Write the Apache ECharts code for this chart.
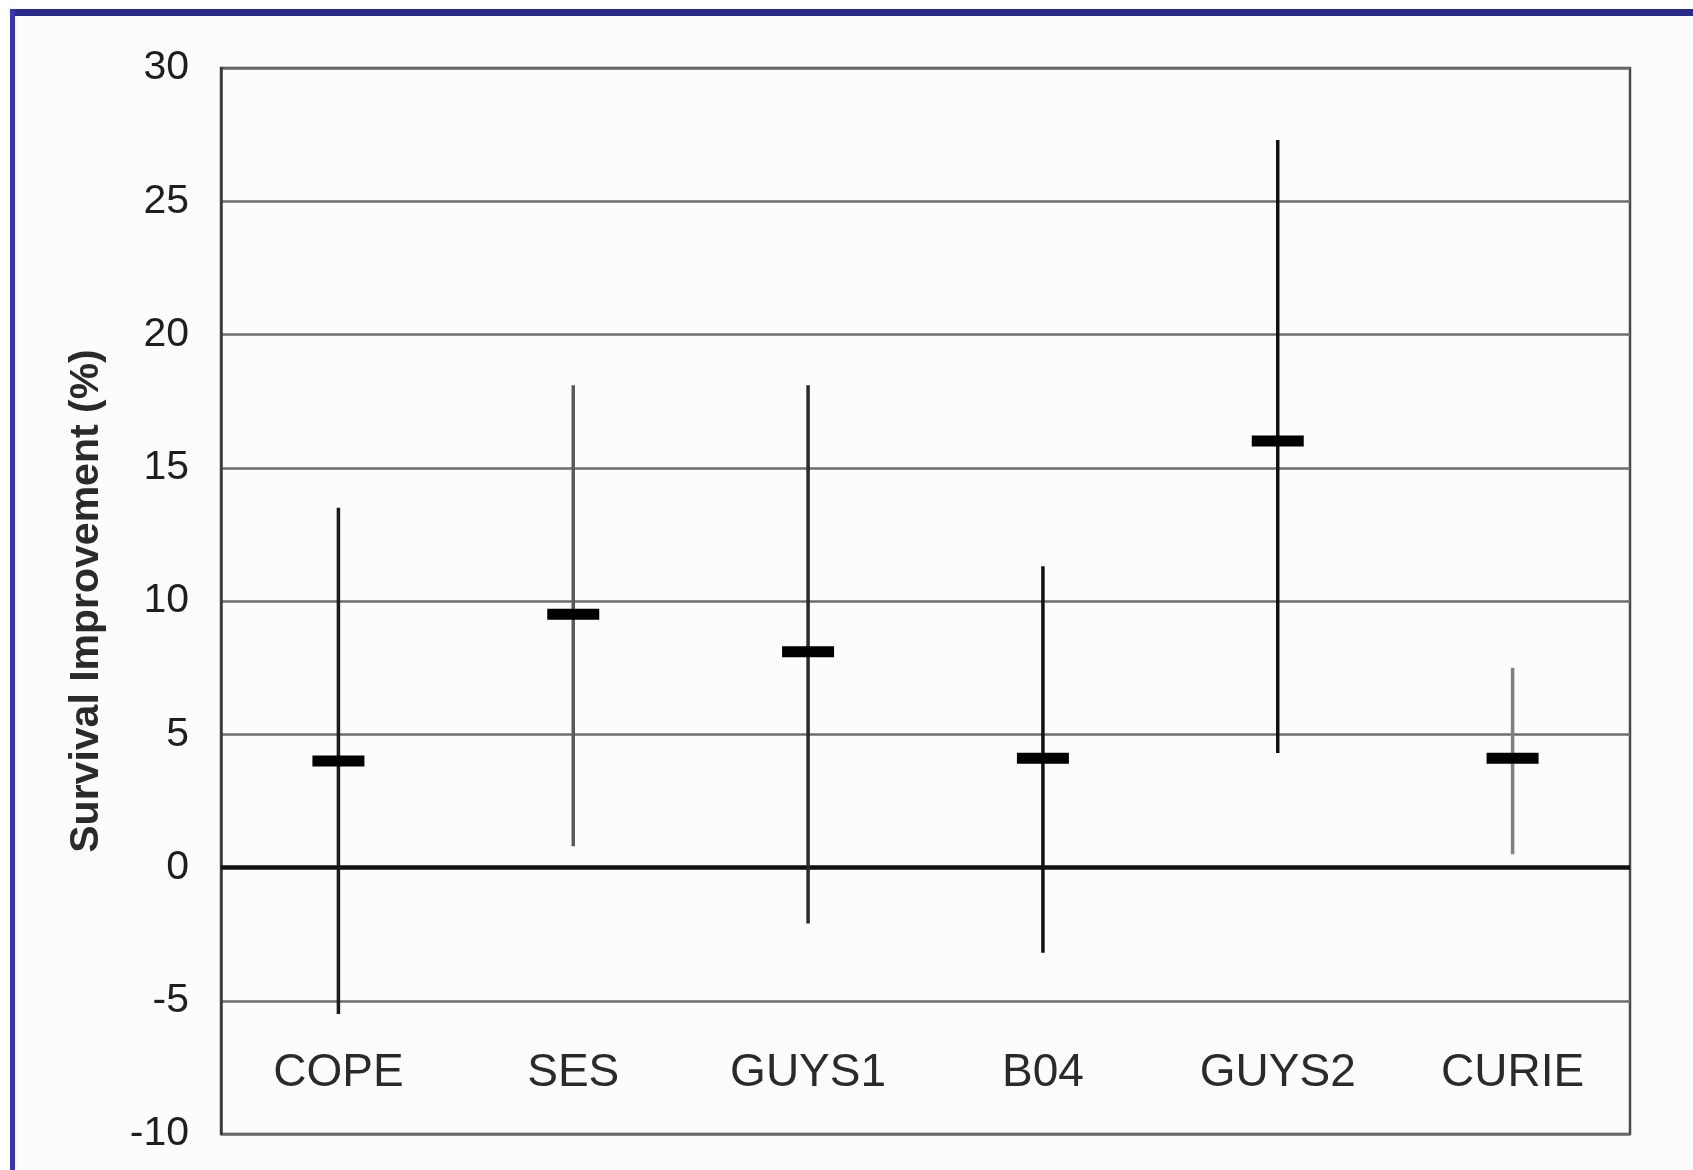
<!DOCTYPE html>
<html>
<head>
<meta charset="utf-8">
<script src="https://cdn.jsdelivr.net/npm/echarts@6/dist/echarts.min.js"></script>
<style>
html,body{margin:0;padding:0;background:#ffffff;}
#chart{width:1693px;height:1170px;}
</style>
</head>
<body>
<div id="chart"></div>
<script>
// ---- data ----
var categories = ['COPE', 'SES', 'GUYS1', 'B04', 'GUYS2', 'CURIE'];
var pointEstimate = [4.0, 9.5, 8.1, 4.1, 16.0, 4.1];
var lowerBound = [-5.5, 0.8, -2.1, -3.2, 4.3, 0.5];
var upperBound = [13.5, 18.1, 18.1, 11.3, 27.3, 7.5];
var yTicks = [-10, -5, 0, 5, 10, 15, 20, 25, 30];

// ---- styles (not data) ----
var barColors = ['#1a1a1a', '#5a5a5a', '#2a2a2a', '#111111', '#111111', '#808080'];

var seriesData = categories.map(function (c, i) {
  return [i, lowerBound[i], upperBound[i], pointEstimate[i]];
});

var chart = echarts.init(document.getElementById('chart'), null, {renderer: 'canvas'});
var option = {
  backgroundColor: '#ffffff',
  animation: false,
  graphic: [
    {type: 'rect', shape: {x: 11, y: 10, width: 1693, height: 1170}, style: {fill: '#fcfcfc'}, z: -10},
    {type: 'rect', shape: {x: 10, y: 9, width: 1693, height: 7}, style: {fill: '#2a2a8e'}, z: 10},
    {type: 'rect', shape: {x: 10, y: 9, width: 5, height: 1170}, style: {fill: '#3535b5'}, z: 10}
  ],
  grid: {
    left: 221, right: 63, top: 68, bottom: 36,
    show: true, borderColor: '#4a4a4a', borderWidth: 2.5, backgroundColor: 'transparent'
  },
  xAxis: {
    type: 'category',
    data: categories,
    axisLine: {show: false},
    axisTick: {show: false},
    splitLine: {show: false},
    axisLabel: {
      inside: true, margin: 38,
      fontFamily: 'Liberation Sans, Arial, sans-serif',
      fontSize: 46, color: '#2a2a2a'
    }
  },
  yAxis: {
    type: 'value',
    min: -10, max: 30, interval: 5,
    name: 'Survival Improvement (%)',
    nameLocation: 'middle',
    nameGap: 114,
    nameTextStyle: {
      fontFamily: 'Liberation Sans, Arial, sans-serif',
      fontSize: 41, fontWeight: 'bold', color: '#2a2a2a'
    },
    axisLine: {show: true, onZero: false, lineStyle: {color: '#3a3a3a', width: 2.5}},
    axisTick: {show: false},
    axisLabel: {
      margin: 32,
      fontFamily: 'Liberation Sans, Arial, sans-serif',
      fontSize: 41, color: '#1e1e1e',
      formatter: function (v) { return yTicks.indexOf(v) >= 0 ? String(v) : ''; }
    },
    splitLine: {show: true, lineStyle: {color: '#6e6e6e', width: 2.5}}
  },
  series: [{
    type: 'custom',
    data: seriesData,
    renderItem: function (params, api) {
      var i = api.value(0);
      var lo = api.coord([i, api.value(1)]);
      var hi = api.coord([i, api.value(2)]);
      var mid = api.coord([i, api.value(3)]);
      var col = barColors[params.dataIndex];
      return {
        type: 'group',
        children: [
          {type: 'line', shape: {x1: lo[0], y1: lo[1], x2: hi[0], y2: hi[1]},
           style: {stroke: col, lineWidth: 3.5}},
          {type: 'rect', shape: {x: mid[0] - 26, y: mid[1] - 5.5, width: 52, height: 11},
           style: {fill: '#000000'}}
        ]
      };
    },
    markLine: {
      silent: true,
      symbol: 'none',
      label: {show: false},
      lineStyle: {color: '#111111', width: 4.5, type: 'solid'},
      data: [{yAxis: 0}],
      z: 1
    },
    z: 5
  }]
};
chart.setOption(option);
</script>
</body>
</html>
